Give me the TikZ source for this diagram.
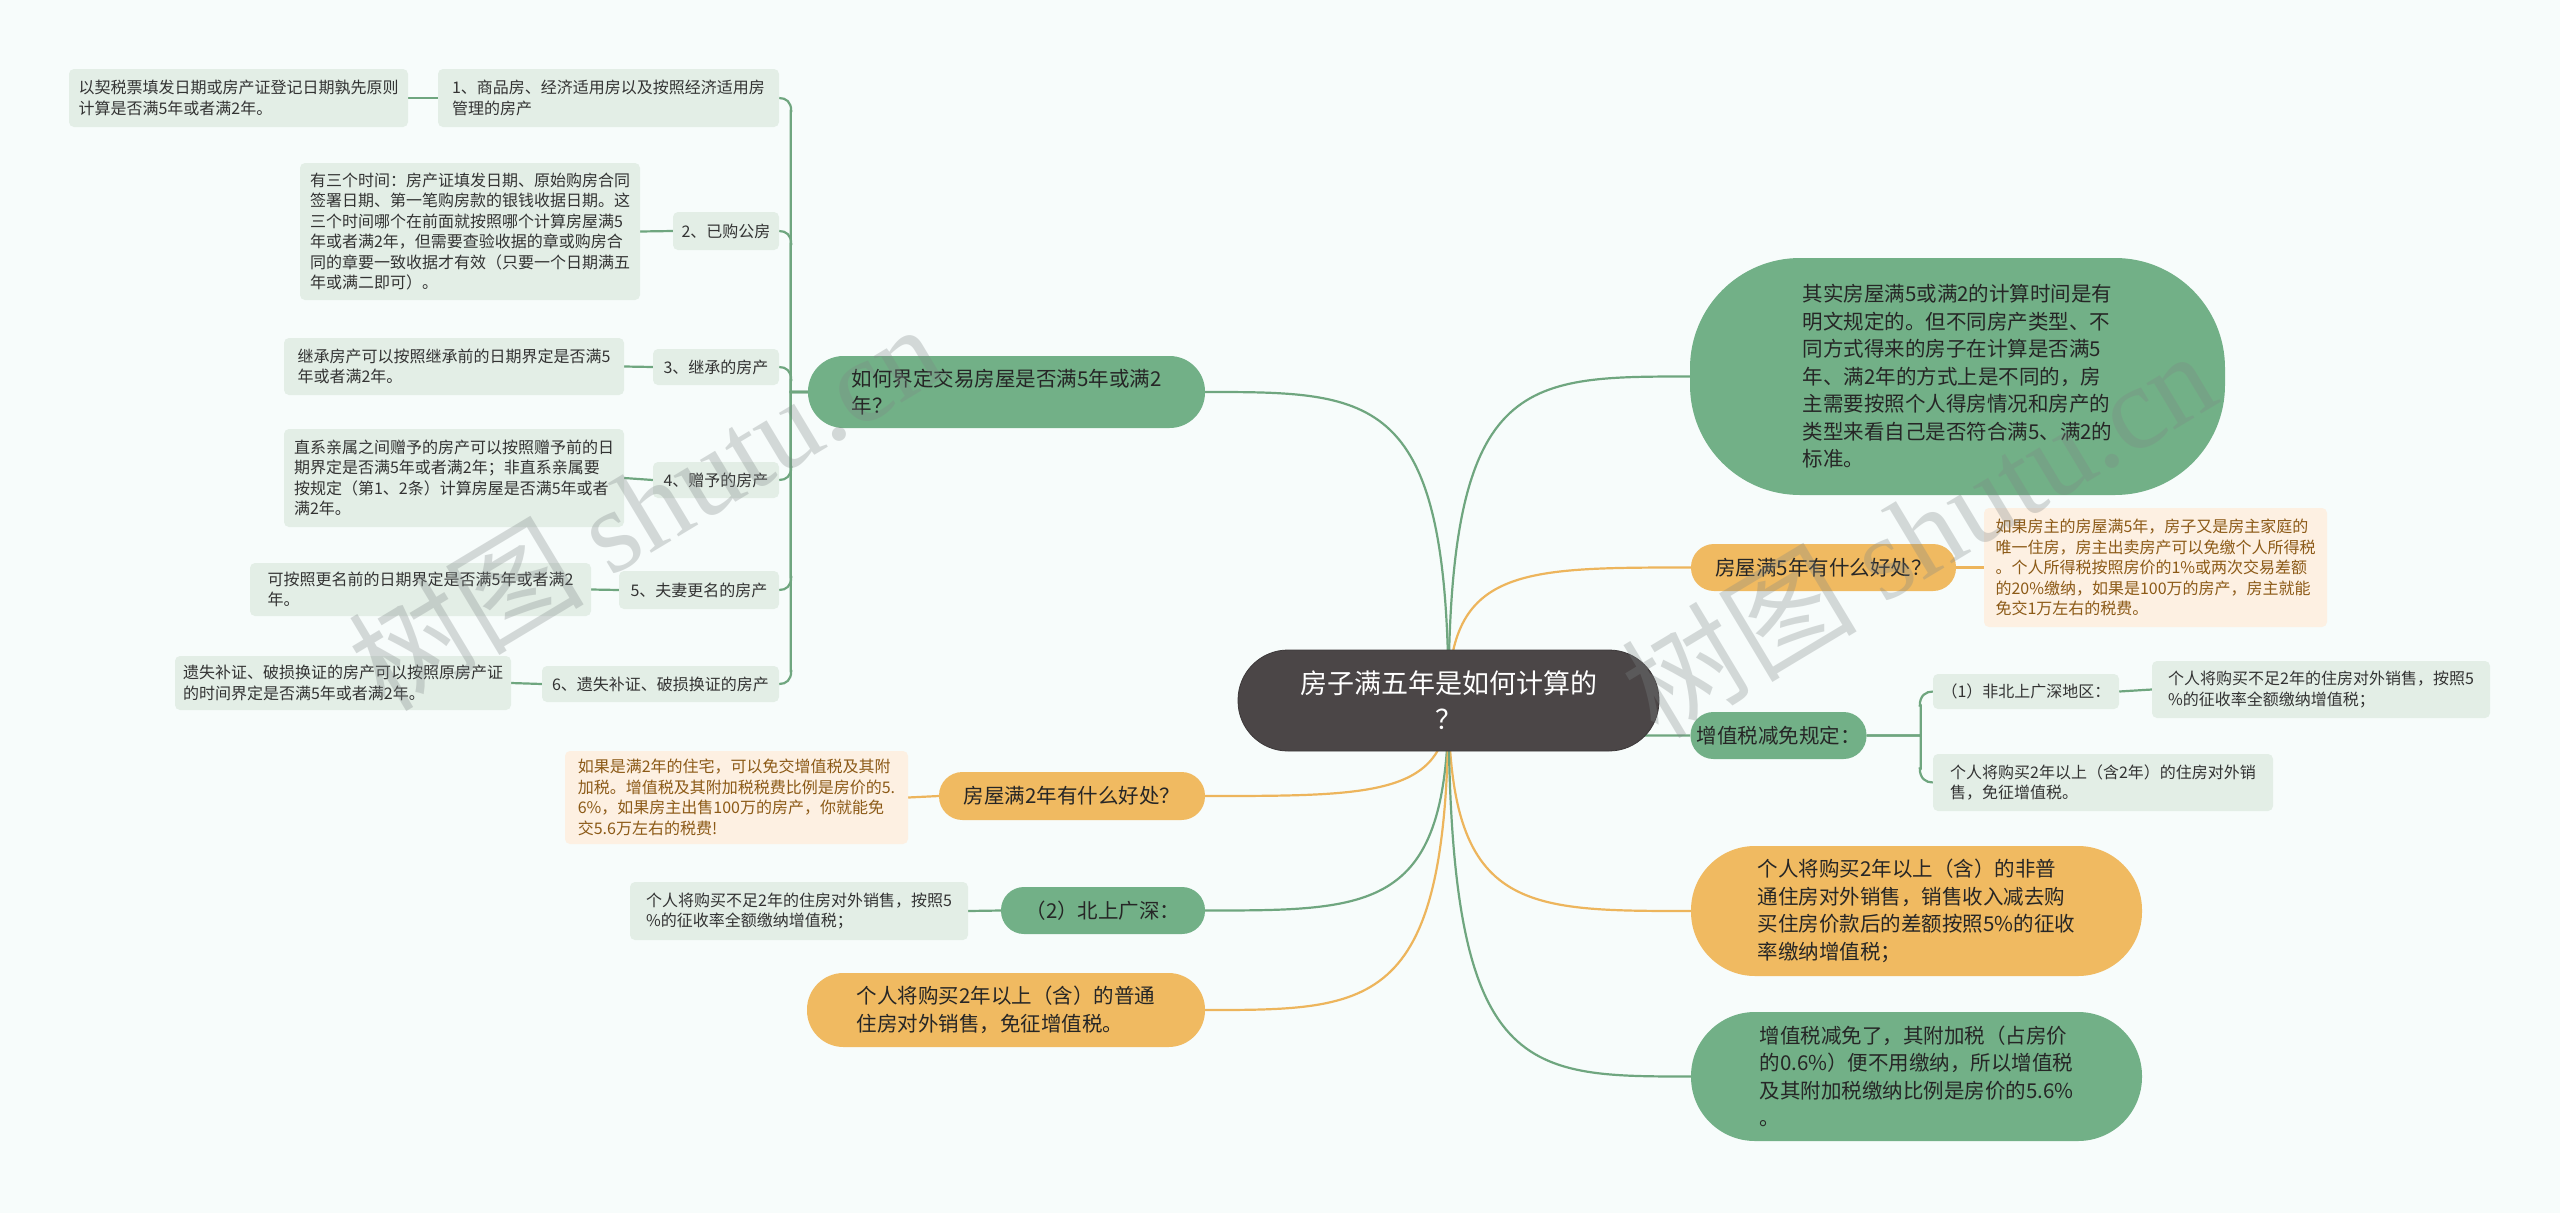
\documentclass[tikz,border=0pt]{standalone}
\usepackage{fontspec}
\setmainfont{Noto Sans CJK SC}
\newfontfamily\wmfont{Liberation Serif}
\usetikzlibrary{calc}
\pgfdeclarelayer{bg}
\pgfsetlayers{bg,main}
\definecolor{bgc}{HTML}{F7FCFB}
\definecolor{darkc}{HTML}{4B4647}
\definecolor{greenc}{HTML}{72B087}
\definecolor{orangec}{HTML}{F0BA61}
\definecolor{lgreen}{HTML}{E3EEE6}
\definecolor{lorange}{HTML}{FDF0E2}
\definecolor{glc}{HTML}{6FA67F}
\definecolor{olc}{HTML}{EDB55C}
\definecolor{brownt}{HTML}{8C5A17}
\definecolor{textc}{HTML}{333333}
\definecolor{pillt}{HTML}{262626}
\definecolor{wmc}{HTML}{7F8686}
\newcommand{\mmspoke}[3]{\draw[#1] (C.center) .. controls (C.center |- #2.#3) and ($(C.center |- #2.#3)!0.3!(#2.#3)$) .. (#2.#3);}
% bracket connector from L1 to a child above / below it
\newcommand{\lup}[1]{\draw[gl] (L1.west) -- ++(-17,0) |- ($(#1.east)+(12,13)$) .. controls +(0,-9) and +(7,0) .. (#1.east);}
\newcommand{\ldown}[1]{\draw[gl] (L1.west) -- ++(-17,0) |- ($(#1.east)+(12,-13)$) .. controls +(0,9) and +(7,0) .. (#1.east);}
\tikzset{
  sz/.style 2 args={minimum width=#1pt, minimum height=#2pt},
  centralnode/.style={fill=darkc, draw=darkc!80!black, line width=0.8pt, text=white, align=center, inner sep=6pt,
    font=\fontsize{27}{36}\selectfont},
  gpill/.style={fill=greenc, text=pillt, align=left, inner sep=6pt, font=\fontsize{20.5}{27.5}\selectfont},
  opill/.style={fill=orangec, text=pillt, align=left, inner sep=6pt, font=\fontsize{20.5}{27.5}\selectfont},
  gbox/.style={fill=lgreen, rounded corners=5pt, text=textc, align=left, inner sep=5pt, font=\fontsize{16}{20.5}\selectfont},
  obox/.style={fill=lorange, rounded corners=5pt, text=brownt, align=left, inner sep=5pt, font=\fontsize{16}{20.5}\selectfont},
  gl/.style={draw=glc, line width=2.2pt},
  ol/.style={draw=olc, line width=2.2pt},
  wm/.style={text=wmc, text opacity=0.3, rotate=31, font=\fontsize{118}{118}\selectfont}
}
\begin{document}
\begin{tikzpicture}[x=1pt,y=-1pt]
\useasboundingbox (0,0) rectangle (2560,1213);

% central
\node[centralnode, sz={421}{101}, rounded corners=50pt] (C) at (1448.5,700.5) {房子满五年是如何计算的\\？};

% left branch 1
\node[gpill, sz={397}{72}, rounded corners=35.5pt] (L1) at (1006.5,392) {如何界定交易房屋是否满5年或满2\\年？};
\node[gbox, sz={341}{58}] (A1) at (608.5,98) {1、商品房、经济适用房以及按照经济适用房\\管理的房产};
\node[gbox, sz={339}{58}] (A1L) at (238.5,98) {以契税票填发日期或房产证登记日期孰先原则\\计算是否满5年或者满2年。};
\node[gbox, sz={106}{38}] (A2) at (726,231) {2、已购公房};
\node[gbox, sz={340}{137}] (A2L) at (470,231.5) {有三个时间：房产证填发日期、原始购房合同\\签署日期、第一笔购房款的银钱收据日期。这\\三个时间哪个在前面就按照哪个计算房屋满5\\年或者满2年，但需要查验收据的章或购房合\\同的章要一致收据才有效（只要一个日期满五\\年或满二即可）。};
\node[gbox, sz={126}{36}] (A3) at (716,367) {3、继承的房产};
\node[gbox, sz={340}{57}] (A3L) at (454,366.5) {继承房产可以按照继承前的日期界定是否满5\\年或者满2年。};
\node[gbox, sz={126}{36}] (A4) at (716,480) {4、赠予的房产};
\node[gbox, sz={340}{98}] (A4L) at (454,478) {直系亲属之间赠予的房产可以按照赠予前的日\\期界定是否满5年或者满2年；非直系亲属要\\按规定（第1、2条）计算房屋是否满5年或者\\满2年。};
\node[gbox, sz={160}{38}] (A5) at (699,590) {5、夫妻更名的房产};
\node[gbox, sz={341}{53}] (A5L) at (420.5,589.5) {可按照更名前的日期界定是否满5年或者满2\\年。};
\node[gbox, sz={237}{36}] (A6) at (660.5,684) {6、遗失补证、破损换证的房产};
\node[gbox, sz={336}{54}] (A6L) at (343,683) {遗失补证、破损换证的房产可以按照原房产证\\的时间界定是否满5年或者满2年。};

% left others
\node[opill, sz={266}{48}, rounded corners=23.5pt] (L2) at (1072,796) {房屋满2年有什么好处？};
\node[obox, sz={343}{93}] (L2L) at (736.5,797.5) {如果是满2年的住宅，可以免交增值税及其附\\加税。增值税及其附加税税费比例是房价的5.\\6\%，如果房主出售100万的房产，你就能免\\交5.6万左右的税费!};
\node[gpill, sz={204}{47}, rounded corners=23pt] (L3) at (1103,910.5) {（2）北上广深：};
\node[gbox, sz={338}{58}] (L3L) at (799,911) {个人将购买不足2年的住房对外销售，按照5\\\%的征收率全额缴纳增值税；};
\node[opill, sz={398}{74}, rounded corners=36.5pt] (L4) at (1006,1010) {个人将购买2年以上（含）的普通\\住房对外销售，免征增值税。};

% right
\node[gpill, sz={535}{237}, rounded corners=110pt] (R1) at (1957.5,376.5) {其实房屋满5或满2的计算时间是有\\明文规定的。但不同房产类型、不\\同方式得来的房子在计算是否满5\\年、满2年的方式上是不同的，房\\主需要按照个人得房情况和房产的\\类型来看自己是否符合满5、满2的\\标准。};
\node[opill, sz={265}{47}, rounded corners=23pt] (R2) at (1823.5,567.5) {房屋满5年有什么好处？};
\node[obox, sz={343}{119}] (R2L) at (2155.5,567.5) {如果房主的房屋满5年，房子又是房主家庭的\\唯一住房，房主出卖房产可以免缴个人所得税\\。个人所得税按照房价的1\%或两次交易差额\\的20\%缴纳，如果是100万的房产，房主就能\\免交1万左右的税费。};
\node[gpill, sz={175}{47}, rounded corners=23pt] (R3) at (1778.5,735.5) {增值税减免规定：};
\node[gbox, sz={186}{35}] (R3a) at (2026,691.5) {（1）非北上广深地区：};
\node[gbox, sz={338}{57}] (R3aL) at (2321,689.5) {个人将购买不足2年的住房对外销售，按照5\\\%的征收率全额缴纳增值税；};
\node[gbox, sz={340}{57}] (R3b) at (2103,782.5) {个人将购买2年以上（含2年）的住房对外销\\售，免征增值税。};
\node[opill, sz={451}{130}, rounded corners=64pt] (R4) at (1916.5,911) {个人将购买2年以上（含）的非普\\通住房对外销售，销售收入减去购\\买住房价款后的差额按照5\%的征收\\率缴纳增值税；};
\node[gpill, sz={451}{129}, rounded corners=64pt] (R5) at (1916.5,1076.5) {增值税减免了，其附加税（占房价\\的0.6\%）便不用缴纳，所以增值税\\及其附加税缴纳比例是房价的5.6\%\\。};

\begin{pgfonlayer}{bg}
\fill[bgc] (0,0) rectangle (2560,1213);
% spokes from the central topic
\mmspoke{gl}{L1}{east}
\mmspoke{ol}{L2}{east}
\mmspoke{gl}{L3}{east}
\mmspoke{ol}{L4}{east}
\mmspoke{gl}{R1}{west}
\mmspoke{ol}{R2}{west}
\mmspoke{gl}{R3}{west}
\mmspoke{ol}{R4}{west}
\mmspoke{gl}{R5}{west}
% branch L1
\lup{A1}
\lup{A2}
\lup{A3}
\ldown{A4}
\ldown{A5}
\ldown{A6}
\foreach \n in {A1,A2,A3,A4,A5,A6}{
  \draw[gl] (\n.west) -- (\n L.east);
}
\draw[ol] (L2.west) -- (L2L.east);
\draw[gl] (L3.west) -- (L3L.east);
\draw[ol] (R2.east) -- (R2L.west);
\draw[gl] (R3.east) -- ++(54,0) |- ($(R3a.west)+(-13,14)$) .. controls +(0,-10) and +(-7,0) .. (R3a.west);
\draw[gl] (R3.east) -- ++(54,0) |- ($(R3b.west)+(-13,-14)$) .. controls +(0,10) and +(-7,0) .. (R3b.west);
\draw[gl] (R3a.east) -- (R3aL.west);
\end{pgfonlayer}

% watermarks
\node[wm] (W1) at (645,505) {树图 {\wmfont shutu.cn}};
\node[wm] (W2) at (1918,532) {树图 {\wmfont shutu.cn}};
\end{tikzpicture}
\end{document}
